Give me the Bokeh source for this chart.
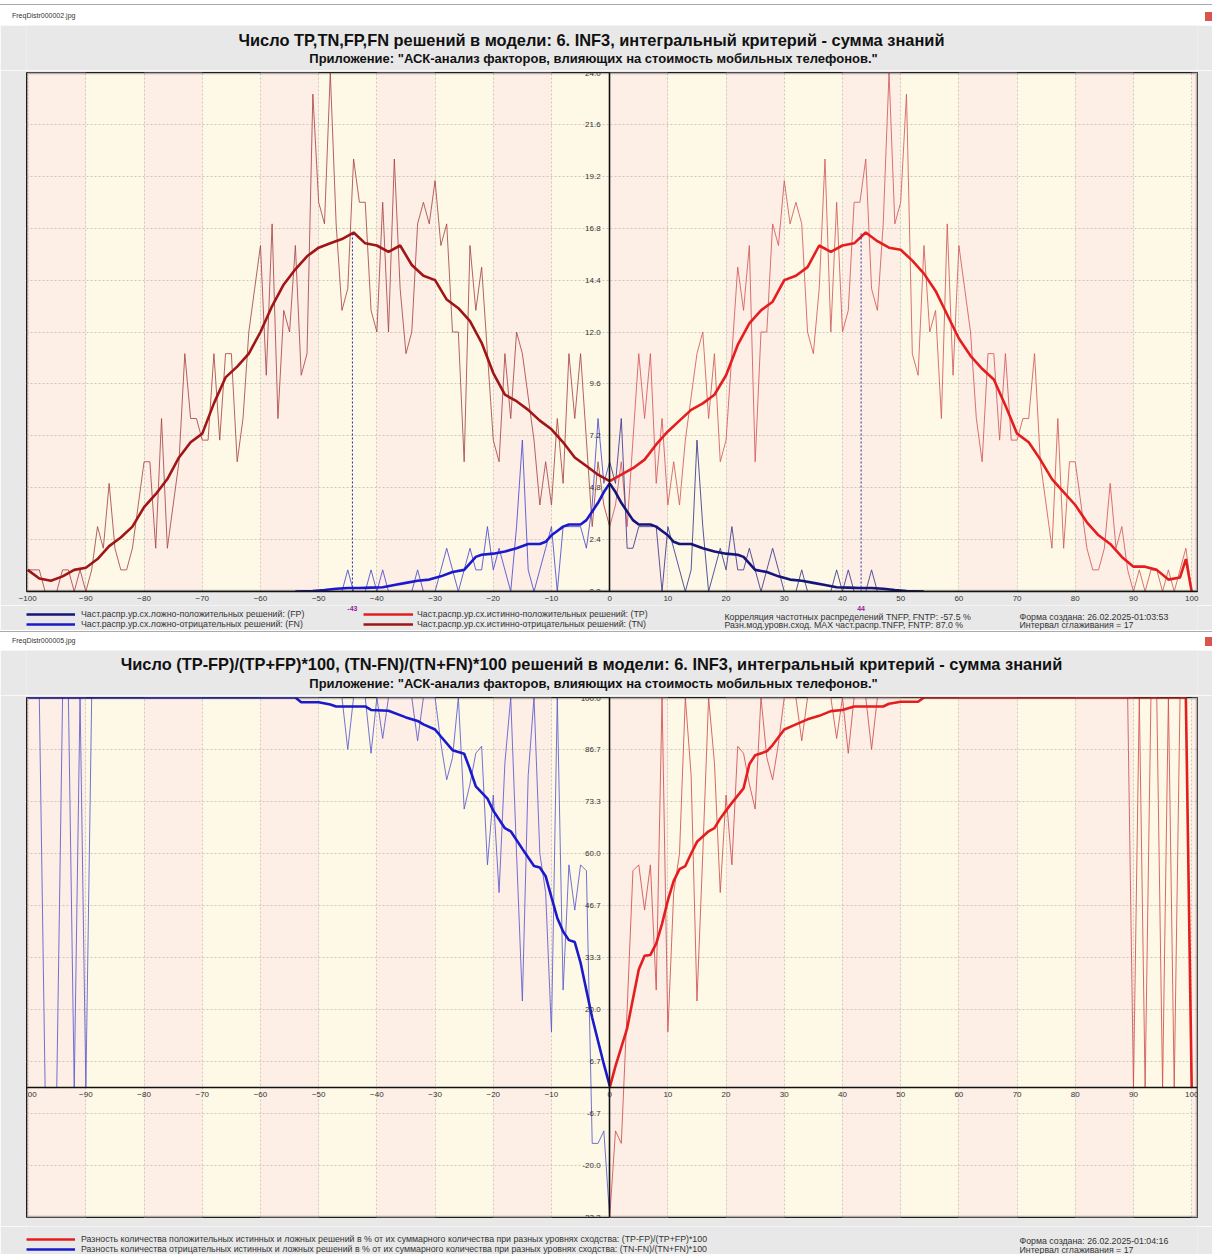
from bokeh.plotting import figure
from bokeh.models import (Range1d, FixedTicker, NumeralTickFormatter, Label, Legend,
                          LegendItem, BoxAnnotation, LinearAxis, Grid, Div)
from bokeh.layouts import column
from bokeh.embed import file_html
from bokeh.resources import INLINE

# ---------------- chart 1 data (frequency counts) ----------------
x_left = list(range(-100, 1))
x_right = list(range(0, 101))

tn_raw = [1, 1, 1, 0, 0, 0, 1, 1, 0, 1,
          0, 1, 3, 2, 5, 2, 1, 1, 2, 4,
          6, 6, 2, 8, 2, 4, 6, 11, 8, 8,
          7, 7, 11, 7, 11, 11, 6, 8, 12, 14,
          16, 10, 17, 8, 13, 12, 16, 10, 11,
          23, 18, 17, 24, 17, 13, 14, 20, 18, 18,
          13, 12, 18, 12, 20, 14, 11, 12, 17, 18,
          17, 19, 16, 17, 12, 12, 6, 16, 13, 15,
          11, 7, 6, 11, 8, 12, 11, 9, 7, 4,
          6, 4, 8, 5, 11, 8, 11, 7, 3, 6,
          4, 3]

tp_raw = [3, 4, 6, 3, 7, 11, 8, 11, 5, 8,
          4, 6, 4, 7, 9, 11, 12, 8, 11, 6,
          7, 11, 15, 13, 16, 6, 12, 12, 17, 16,
          19, 17, 18, 17, 12, 11, 14, 20, 12, 18,
          12, 13, 18, 18, 20, 14, 13, 17, 24, 17,
          18, 23, 11, 10, 16, 12, 13, 8, 17, 10,
          16, 14, 12, 8, 6, 11, 11, 7, 11, 7,
          7, 8, 8, 11, 6, 4, 2, 8, 2, 6,
          6, 4, 2, 1, 1, 2, 5, 2, 3, 1,
          0, 1, 0, 1, 1, 0, 1, 0, 1, 2,
          0]

fn_x = list(range(-54, 1))
fn_raw = [0, 0, 0, 0, 0, 0, 0, 0, 0, 1,
          0, 0, 0, 1, 0, 1, 0, 0, 0, 0,
          0, 1, 0, 0, 0, 1, 2, 1, 0, 1,
          2, 1, 1, 3, 1, 2, 1, 0, 3, 7,
          1, 0, 1, 2, 3, 0, 3, 3, 3, 3,
          2, 4, 8, 5, 6]

fp_x = list(range(0, 55))
fp_raw = [6, 5, 8, 2, 2, 3, 3, 3, 3, 0,
          3, 2, 1, 0, 1, 7, 3, 0, 1, 2,
          1, 3, 1, 1, 2, 1, 0, 1, 2, 1,
          0, 0, 0, 1, 0, 0, 0, 0, 0, 1,
          0, 1, 0, 0, 0, 1, 0, 0, 0, 0,
          0, 0, 0, 0, 0]

# smoothed curves (interval 17)
tn_s_x = [-100, -98, -96, -94, -92, -90, -88, -86, -84, -82, -80, -78, -76, -74, -72, -70,
          -68, -66, -64, -62, -60, -58, -56, -54, -52, -50, -48, -46, -44, -42, -40, -38,
          -36, -34, -32, -30, -28, -26, -24, -22, -20, -18, -16, -14, -12, -10, -8, -6,
          -4, -2, 0]
tn_s = [1.0, 0.6, 0.5, 0.7, 1.0, 1.1, 1.5, 2.1, 2.5, 3.0, 3.9, 4.5, 5.2, 6.2, 6.9, 7.3,
        8.7, 9.9, 10.4, 11.0, 12.0, 13.2, 14.2, 14.9, 15.5, 15.9, 16.1, 16.3, 16.6, 16.1, 16.0, 15.7,
        16.0, 15.1, 14.6, 14.4, 13.5, 13.1, 12.5, 11.5, 10.1, 9.1, 8.8, 8.4, 7.9, 7.5, 6.9, 6.2,
        5.8, 5.4, 5.1]

tp_s_x = [0, 2, 4, 6, 8, 10, 12, 14, 16, 18, 20, 22, 24, 26, 28, 30, 32, 34, 36, 38,
          40, 42, 44, 46, 48, 50, 52, 54, 56, 58, 60, 62, 64, 66, 68, 70, 72, 74, 76, 78,
          80, 82, 84, 86, 88, 90, 92, 94, 96, 98, 99, 100]
tp_s = [5.1, 5.4, 5.7, 6.1, 6.8, 7.4, 7.9, 8.4, 8.7, 9.1, 10.0, 11.4, 12.4, 13.0, 13.4, 14.4, 14.6, 15.0, 16.0, 15.7,
        16.0, 16.1, 16.6, 16.2, 15.9, 15.8, 15.3, 14.7, 13.9, 12.8, 11.7, 10.9, 10.3, 9.8, 8.6, 7.3, 6.9, 6.1, 5.2, 4.6,
        4.0, 3.2, 2.6, 2.2, 1.6, 1.15, 1.15, 1.0, 0.55, 0.65, 1.5, 0.0]

fp_s_x = [0, 1, 2, 3, 4, 5, 6, 7, 8, 9, 10, 11, 12, 14, 16, 18, 20, 22, 23, 24, 25,
          27, 29, 31, 33, 35, 37, 39, 41, 43, 45, 47, 49, 51, 54]
fp_s = [5.0, 4.6, 4.1, 3.7, 3.3, 3.1, 3.1, 3.1, 3.0, 2.8, 2.6, 2.3, 2.2, 2.2, 2.0, 1.85, 1.75, 1.7, 1.6, 1.3, 1.0,
        0.9, 0.7, 0.55, 0.5, 0.4, 0.3, 0.2, 0.18, 0.16, 0.16, 0.13, 0.07, 0.02, 0.0]

fn_s_x = [-54, -51, -49, -47, -45, -43, -41, -39, -37, -35, -33, -31, -29, -27, -25, -24, -23, -22,
          -20, -18, -16, -14, -12, -11, -10, -9, -8, -7, -6, -5, -4, -3, -2, -1, 0]
fn_s = [0.0, 0.02, 0.07, 0.13, 0.16, 0.16, 0.18, 0.2, 0.3, 0.4, 0.5, 0.55, 0.7, 0.9, 1.0, 1.3, 1.6, 1.7,
        1.75, 1.85, 2.0, 2.2, 2.2, 2.3, 2.6, 2.8, 3.0, 3.1, 3.1, 3.1, 3.3, 3.7, 4.1, 4.6, 5.0]

mode_x = [-44.2, 43.2]
mode_y = [16.6, 16.6]
mode_base = [0, 0]
mode_text = ["-43", "44"]

# ---------------- chart 2 data (percent differences) ----------------
neg_ratio = [100.0, 100.0, 100.0, 0.0, 0.0, 0.0, 100.0, 100.0, 0.0, 100.0,
             0.0, 100.0, 100.0, 100.0, 100.0, 100.0, 100.0, 100.0, 100.0, 100.0,
             100.0, 100.0, 100.0, 100.0, 100.0, 100.0, 100.0, 100.0, 100.0, 100.0,
             100.0, 100.0, 100.0, 100.0, 100.0, 100.0, 100.0, 100.0, 100.0, 100.0,
             100.0, 100.0, 100.0, 100.0, 100.0, 100.0, 100.0, 100.0, 100.0, 100.0,
             100.0, 100.0, 100.0, 100.0, 100.0, 86.7, 100.0, 100.0, 100.0, 85.7,
             100.0, 89.5, 100.0, 100.0, 100.0, 100.0, 100.0, 88.9, 100.0, 100.0,
             100.0, 88.2, 78.9, 84.6, 100.0, 71.4, 77.8, 85.7, 87.5, 57.1,
             75.0, 50.0, 83.3, 100.0, 60.0, 22.2, 80.0, 100.0, 60.0, 50.0,
             14.3, 100.0, 25.0, 57.1, 45.5, 57.1, 55.6, -14.3, -14.3, -11.1,
             -33.3]

pos_ratio = [-33.3, -11.1, -14.3, 20.0, 55.6, 57.1, 45.5, 57.1, 25.0, 100.0,
             14.3, 50.0, 60.0, 100.0, 80.0, 22.2, 60.0, 100.0, 83.3, 50.0,
             75.0, 57.1, 87.5, 85.7, 77.8, 71.4, 100.0, 84.6, 78.9, 88.2,
             100.0, 100.0, 100.0, 88.9, 100.0, 100.0, 100.0, 100.0, 100.0, 89.5,
             100.0, 85.7, 100.0, 100.0, 100.0, 86.7, 100.0, 100.0, 100.0, 100.0,
             100.0, 100.0, 100.0, 100.0, 100.0, 100.0, 100.0, 100.0, 100.0, 100.0,
             100.0, 100.0, 100.0, 100.0, 100.0, 100.0, 100.0, 100.0, 100.0, 100.0,
             100.0, 100.0, 100.0, 100.0, 100.0, 100.0, 100.0, 100.0, 100.0, 100.0,
             100.0, 100.0, 100.0, 100.0, 100.0, 100.0, 100.0, 100.0, 100.0, 100.0,
             0.0, 100.0, 0.0, 100.0, 100.0, 0.0, 100.0, 0.0, 100.0, 100.0,
             0.0]

neg_s_x = [-100, -54, -53, -50, -48, -47, -42, -41, -38, -35, -33, -32, -30, -29, -27, -25, -24, -23,
           -21, -20, -18, -17, -15, -13, -12, -11, -10, -9, -8, -7, -6, -5, -3, -1, 0]
neg_s = [100.0, 100.0, 98.8, 98.8, 98.2, 97.7, 97.7, 96.8, 96.6, 94.9, 94.0, 93.1, 91.8, 90.0, 86.5, 85.6, 81.6, 77.2,
         74.1, 71.0, 66.5, 65.7, 61.2, 56.8, 56.4, 54.2, 48.8, 43.5, 40.0, 37.8, 37.3, 32.0, 17.9, 6.0, 0.5]

pos_s_x = [0, 1, 3, 5, 6, 7, 8, 9, 10, 11, 12, 13, 14, 15, 17, 18, 19, 20, 21, 23,
           24, 25, 27, 28, 30, 32, 34, 36, 38, 40, 42, 47, 48, 50, 53, 54, 99, 100]
pos_s = [0.0, 5.5, 15.2, 30.3, 33.8, 34.0, 36.9, 42.0, 48.0, 53.0, 56.0, 56.8, 60.0, 63.0, 65.7, 66.5, 69.0, 71.0, 73.0, 76.7,
         82.9, 85.2, 86.2, 87.8, 91.8, 93.1, 94.4, 95.3, 96.5, 96.8, 97.7, 97.7, 98.4, 98.9, 98.9, 100.0, 100.0, 0.0]

# ---------------- ticks / text ----------------
x_ticks = [-100, -90, -80, -70, -60, -50, -40, -30, -20, -10, 0, 10, 20, 30, 40, 50, 60, 70, 80, 90, 100]
y1_ticks = [0.0, 2.4, 4.8, 7.2, 9.6, 12.0, 14.4, 16.8, 19.2, 21.6, 24.0]
y2_ticks = [-33.3, -20.0, -6.7, 6.7, 20.0, 33.3, 46.7, 60.0, 73.3, 86.7, 100.0]

title1 = "Число TP,TN,FP,FN решений в модели: 6. INF3, интегральный критерий - сумма знаний"
title2 = "Число (TP-FP)/(TP+FP)*100, (TN-FN)/(TN+FN)*100 решений в модели: 6. INF3, интегральный критерий - сумма знаний"
subtitle = 'Приложение: "АСК-анализ факторов, влияющих на стоимость мобильных телефонов."'
lab_fp = "Част.распр.ур.сх.ложно-положительных решений: (FP)"
lab_fn = "Част.распр.ур.сх.ложно-отрицательных решений: (FN)"
lab_tp = "Част.распр.ур.сх.истинно-положительных решений: (TP)"
lab_tn = "Част.распр.ур.сх.истинно-отрицательных решений: (TN)"
corr1 = "Корреляция частотных распределений TNFP, FNTP: -57.5 %"
corr2 = "Разн.мод.уровн.сход. MAX част.распр.TNFP, FNTP:  87.0 %"
date1 = "Форма создана: 26.02.2025-01:03:53"
date2 = "Форма создана: 26.02.2025-01:04:16"
smooth_txt = "Интервал сглаживания = 17"
lab_pos = ("Разность количества положительных истинных и ложных решений в % от их суммарного "
           "количества при разных уровнях сходства: (TP-FP)/(TP+FP)*100")
lab_neg = ("Разность количества отрицательных истинных и ложных решений в % от их суммарного "
           "количества при разных уровнях сходства: (TN-FN)/(TN+FN)*100")

FONT = "Liberation Sans"
GRAY = "#E8E8E8"
PINK = "#FDEEE6"
CREAM = "#FEF8E6"
GRIDC = "#CFC6BC"
TXT = "#333333"
XR = (-100.2, 101.0)
FS = "8.8px"


def bare(h, xr, yr):
    f = figure(width=1212, height=h, x_range=Range1d(*xr), y_range=Range1d(*yr),
               output_backend="svg", toolbar_location=None, x_axis_type=None, y_axis_type=None,
               min_border_left=26, min_border_right=15, min_border_top=0, min_border_bottom=0)
    f.outline_line_color = None
    f.background_fill_color = GRAY
    f.border_fill_color = GRAY
    return f


def slabel(p, x, y, text, size=FS, bold=False, align="left", color=TXT, baseline="middle"):
    p.add_layout(Label(x=x, y=y, x_units="screen", y_units="screen", text=text, text_font=FONT,
                       text_font_size=size, text_font_style="bold" if bold else "normal",
                       text_align=align, text_baseline=baseline, text_color=color))


def make_strip(h, name, line_top, text_top, sq_top):
    html = (
        f'<div style="position:relative;width:1212px;height:{h}px;background:#ffffff;overflow:hidden;'
        f'font-family:\'Liberation Sans\',Arial,sans-serif;font-size:7px;color:#333;">'
        f'<div style="position:absolute;left:0;top:{line_top}px;width:1212px;height:1px;background:#AAAAAA;"></div>'
        f'<div style="position:absolute;left:12px;top:{text_top}px;line-height:8px;">{name}</div>'
        f'<div style="position:absolute;left:1205px;top:{sq_top}px;width:7px;height:9px;background:#D9534F;"></div>'
        f'</div>')
    return Div(text=html, width=1212, height=h, margin=0)


def make_head(h, title, y_title, y_sub):
    hd = bare(h, XR, (0, h))
    slabel(hd, 565, y_title, title, size="16.4px", bold=True, align="center", color="#111111")
    slabel(hd, 567, y_sub, subtitle, size="13px", bold=True, align="center", color="#111111")
    return hd


def make_main(h, yr, top_b, bot_b, yticks, x_fixed):
    p = figure(width=1212, height=h, x_range=Range1d(*XR), y_range=Range1d(*yr),
               output_backend="svg", toolbar_location=None, x_axis_type=None, y_axis_type=None,
               min_border_left=26, min_border_right=15, min_border_top=top_b, min_border_bottom=bot_b)
    p.background_fill_color = CREAM
    p.border_fill_color = GRAY
    p.outline_line_color = "#1E1E1E"
    p.outline_line_width = 1
    xt = FixedTicker(ticks=x_ticks)
    yt = FixedTicker(ticks=yticks)
    p.add_layout(Grid(dimension=0, ticker=xt, grid_line_color=GRIDC, grid_line_dash="2 2",
                      band_fill_color=PINK, band_fill_alpha=1.0))
    p.add_layout(Grid(dimension=1, ticker=yt, grid_line_color=GRIDC, grid_line_dash="2 2"))
    xa = LinearAxis(ticker=xt, major_tick_line_color=None, minor_tick_line_color=None,
                    major_tick_out=0, major_tick_in=0,
                    major_label_text_font_size="8px", major_label_text_color=TXT,
                    major_label_text_font=FONT, axis_line_color="#111111", axis_line_width=1.6,
                    major_label_standoff=4)
    if x_fixed:
        xa.fixed_location = 0
    p.add_layout(xa, "below")
    ya = LinearAxis(ticker=yt, formatter=NumeralTickFormatter(format="0.0"), fixed_location=0,
                    major_tick_line_color=None, minor_tick_line_color=None,
                    major_tick_out=0, major_tick_in=0,
                    major_label_text_font_size="8px", major_label_text_color=TXT,
                    major_label_text_font=FONT, axis_line_color="#111111", axis_line_width=1.6,
                    major_label_standoff=9)
    p.add_layout(ya, "left")
    return p


def frame_border(p):
    p.add_layout(BoxAnnotation(fill_alpha=0, line_color="#1E1E1E", line_width=3.5))


def legend(items, loc, gw, stand):
    return Legend(items=items, location=loc, orientation="vertical", glyph_width=gw, glyph_height=8,
                  label_height=8, label_standoff=stand, spacing=-2, padding=0, margin=0,
                  border_line_color=None, background_fill_alpha=0, label_text_font_size=FS,
                  label_text_font=FONT, label_text_color=TXT)


# ================= chart 1 =================
strip1 = make_strip(25, "FreqDistr000002.jpg", 4, 12, 12)
head1 = make_head(45, title1, 31, 12)
p1 = make_main(535, (0, 24), 2, 14, y1_ticks, False)

p1.line(x_left, tn_raw, line_color="#A84848", line_width=1, line_alpha=0.85)
p1.line(x_right, tp_raw, line_color="#D45A5A", line_width=1, line_alpha=0.85)
p1.line(fn_x, fn_raw, line_color="#4B4BD0", line_width=1, line_alpha=0.85)
p1.line(fp_x, fp_raw, line_color="#3A3A8A", line_width=1, line_alpha=0.85)
p1.line(tn_s_x, tn_s, line_color="#A01515", line_width=2.6)
p1.line(tp_s_x, tp_s, line_color="#E41E1E", line_width=2.6)
p1.line(fn_s_x, fn_s, line_color="#1A1ACC", line_width=2.6)
p1.line(fp_s_x, fp_s, line_color="#14147A", line_width=2.6)
p1.segment(x0=mode_x, y0=mode_base, x1=mode_x, y1=mode_y, line_color="#2A2AA0",
           line_width=1, line_dash="2 2")
frame_border(p1)

# footer 1: legend (proxy renderers hold the same series, outside the footer's visible range)
foot1 = bare(25, XR, (-1000, -975))
fr_fp = foot1.line(fp_s_x, fp_s, line_color="#14147A", line_width=2.6)
fr_fn = foot1.line(fn_s_x, fn_s, line_color="#1A1ACC", line_width=2.6)
fr_tp = foot1.line(tp_s_x, tp_s, line_color="#E41E1E", line_width=2.6)
fr_tn = foot1.line(tn_s_x, tn_s, line_color="#A01515", line_width=2.6)
foot1.add_layout(legend([LegendItem(label=lab_fp, renderers=[fr_fp]),
                         LegendItem(label=lab_fn, renderers=[fr_fn])], (0, 1), 49, 6))
foot1.add_layout(legend([LegendItem(label=lab_tp, renderers=[fr_tp]),
                         LegendItem(label=lab_tn, renderers=[fr_tn])], (337, 1), 50, 4))
for mx, mt in zip(mode_x, mode_text):
    foot1.add_layout(Label(x=mx, y=24.5, x_units="data", y_units="screen", text=mt, text_font=FONT,
                           text_font_size="7px", text_font_style="bold", text_color="#9B1B9B",
                           text_align="center", text_baseline="top"))
slabel(foot1, 698, 14, corr1)
slabel(foot1, 698, 6, corr2)
slabel(foot1, 993, 14, date1)
slabel(foot1, 993, 6, smooth_txt)

# ================= chart 2 =================
strip2 = make_strip(20, "FreqDistr000005.jpg", 1, 7, 7)
head2 = make_head(45, title2, 32, 12)
p2 = make_main(531, (-33.3, 100.0), 2, 9, y2_ticks, True)

p2.line(x_left, neg_ratio, line_color="#5A5ACC", line_width=1, line_alpha=0.85)
p2.line(x_right, pos_ratio, line_color="#D05050", line_width=1, line_alpha=0.85)
p2.line(neg_s_x, neg_s, line_color="#1A1ACC", line_width=2.6)
p2.line(pos_s_x, pos_s, line_color="#E41E1E", line_width=2.6)
frame_border(p2)

foot2 = bare(28, XR, (-1000, -972))
fr_pos = foot2.line(pos_s_x, pos_s, line_color="#E41E1E", line_width=2.6)
fr_neg = foot2.line(neg_s_x, neg_s, line_color="#1A1ACC", line_width=2.6)
foot2.add_layout(legend([LegendItem(label=lab_pos, renderers=[fr_pos]),
                         LegendItem(label=lab_neg, renderers=[fr_neg])], (0, 0), 49, 6))
slabel(foot2, 993, 14, date2)
slabel(foot2, 993, 5, smooth_txt)

layout = column(strip1, head1, p1, foot1, strip2, head2, p2, foot2, spacing=0)
open("out.html", "w").write(file_html(layout, INLINE))
